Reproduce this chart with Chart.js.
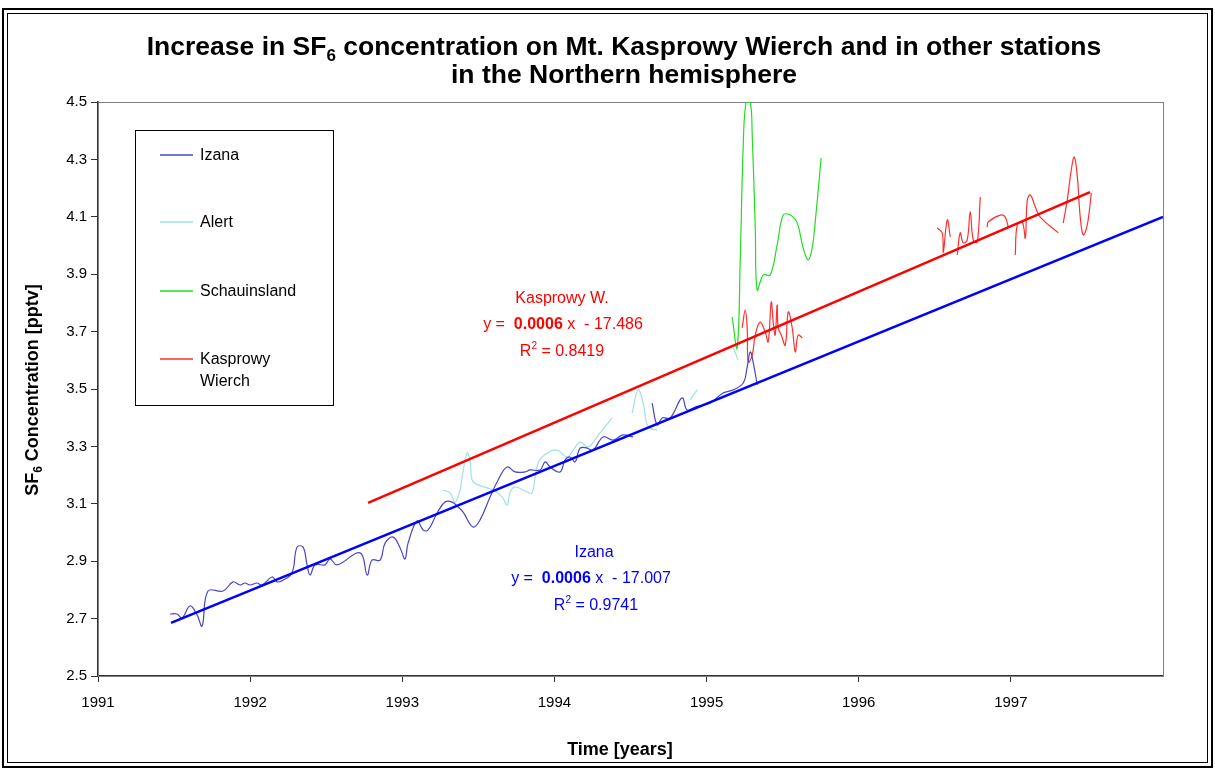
<!DOCTYPE html>
<html>
<head>
<meta charset="utf-8">
<script src="https://cdn.jsdelivr.net/npm/chart.js@4/dist/chart.umd.min.js"></script>
<style>
  body { margin: 0; background: #fff; }
  #wrap { width: 1215px; height: 770px; }
</style>
</head>
<body>
<div id="wrap"><canvas id="sf6Chart" width="1215" height="770"></canvas></div>
<script>
// Izana (null marks a break in the record)
const izanaYears = [1991.473, 1991.519, 1991.552, 1991.605, 1991.651, 1991.684, 1991.723, 1991.822, 1991.888, 1991.934,
  1991.966, 1991.999, 1992.045, 1992.078, 1992.144, 1992.177, 1992.216, 1992.275, 1992.308, 1992.348,
  1992.374, 1992.394, 1992.427, 1992.492, 1992.525, 1992.571, 1992.723, 1992.769, 1992.801, 1992.854,
  1992.887, 1992.94, 1992.986, 1993.018, 1993.038, 1993.097, 1993.137, 1993.17, 1993.229, 1993.281,
  1993.327, 1993.367, 1993.4, 1993.465, 1993.511, 1993.577, 1993.63, 1993.689, 1993.742, 1993.807,
  1993.84, 1993.906, 1993.939, 1993.972, 1994.037, 1994.07, 1994.103, 1994.136, 1994.169, 1994.215,
  1994.254, 1994.32, 1994.386, 1994.452, 1994.517, null, 1994.642, 1994.675, 1994.708, 1994.761,
  1994.839, 1994.872, 1994.925, 1994.978, 1995.024, 1995.109, 1995.175, 1995.241, 1995.267, 1995.287,
  1995.306, 1995.333];
const izanaValues = [2.716, 2.716, 2.702, 2.744, 2.713, 2.674, 2.796, 2.796, 2.828, 2.817,
  2.824, 2.817, 2.824, 2.817, 2.845, 2.828, 2.834, 2.859, 2.949, 2.949,
  2.887, 2.852, 2.887, 2.887, 2.908, 2.887, 2.929, 2.852, 2.904, 2.904,
  2.963, 2.984, 2.946, 2.908, 2.963, 3.04, 3.009, 3.009, 3.068, 3.106,
  3.106, 3.089, 3.071, 3.019, 3.044, 3.124, 3.183, 3.228, 3.211, 3.211,
  3.218, 3.218, 3.246, 3.228, 3.211, 3.253, 3.263, 3.246, 3.294, 3.294,
  3.287, 3.333, 3.322, 3.34, 3.333, null, 3.451, 3.375, 3.399, 3.399,
  3.469, 3.427, 3.437, 3.444, 3.451, 3.486, 3.497, 3.521, 3.577, 3.629,
  3.594, 3.514];

// Alert
const alertYears = [1993.268, 1993.314, 1993.347, 1993.38, 1993.393, 1993.426, 1993.446, 1993.459, 1993.498, 1993.597,
  1993.656, 1993.689, 1993.709, 1993.742, 1993.821, 1993.853, 1993.893, 1993.952, 1994.018, 1994.083,
  1994.123, 1994.169, 1994.222, 1994.30, 1994.379, null, 1994.511, 1994.55, 1994.583, 1994.616,
  1994.675, null, 1994.892, 1994.938, null, 1995.175, 1995.208];
const alertValues = [3.148, 3.138, 3.106, 3.148, 3.193, 3.277, 3.253, 3.183, 3.166, 3.148,
  3.124, 3.096, 3.141, 3.159, 3.141, 3.138, 3.242, 3.277, 3.287, 3.263,
  3.287, 3.315, 3.298, 3.347, 3.399, null, 3.416, 3.497, 3.451, 3.368,
  3.357, null, 3.462, 3.497, null, 3.643, 3.601];

// Schauinsland
const schauYears = [1995.168, 1995.201, 1995.221, 1995.241, 1995.26, 1995.287, 1995.30, 1995.32, 1995.333, 1995.372,
  1995.418, 1995.464, 1995.504, 1995.55, 1995.596, 1995.635, 1995.668, 1995.694, 1995.714, 1995.753];
const schauValues = [3.751, 3.643, 3.943, 4.35, 4.5, 4.5, 4.385, 4.061, 3.845, 3.897,
  3.897, 4.002, 4.106, 4.106, 4.078, 3.991, 3.95, 3.991, 4.082, 4.305];

// Kasprowy Wierch
const kasprowyYears = [1995.234, 1995.254, 1995.267, 1995.274, 1995.30, 1995.32, 1995.352, 1995.385, 1995.405, 1995.425,
  1995.438, 1995.451, 1995.464, 1995.471, 1995.491, 1995.517, 1995.537, 1995.563, 1995.583, 1995.602,
  1995.629, null,
  1996.516, 1996.549, 1996.556, 1996.582, 1996.602, null,
  1996.648, 1996.667, 1996.687, 1996.713, 1996.733, 1996.753, 1996.779, 1996.799, null,
  1996.845, 1996.851, 1996.93, 1996.963, 1996.983, null,
  1997.029, 1997.042, 1997.075, 1997.095, 1997.108, 1997.128, 1997.161, 1997.193, 1997.312, null,
  1997.344, 1997.371, 1997.397, 1997.417, 1997.437, 1997.456, 1997.476, 1997.502, 1997.529];
const kasprowyValues = [3.713, 3.775, 3.713, 3.594, 3.618, 3.688, 3.733, 3.699, 3.664, 3.803,
  3.733, 3.688, 3.793, 3.713, 3.688, 3.653, 3.768, 3.713, 3.629, 3.688,
  3.678, null,
  4.061, 4.044, 3.977, 4.089, 4.03, null,
  3.967, 4.044, 4.009, 4.019, 4.117, 4.019, 4.012, 4.169, null,
  4.064, 4.082, 4.106, 4.099, 4.064, null,
  3.967, 4.071, 4.082, 4.026, 4.159, 4.176, 4.134, 4.099, 4.044, null,
  4.078, 4.159, 4.263, 4.308, 4.239, 4.099, 4.037, 4.071, 4.183];

// linear trend lines (end points)
const izanaTrendYears = [1991.48, 1998];
const izanaTrendValues = [2.685, 4.1];
const kasprowyTrendYears = [1992.775, 1997.52];
const kasprowyTrendValues = [3.103, 4.186];

const xTicks = [1991, 1992, 1993, 1994, 1995, 1996, 1997];
const yTicks = [2.5, 2.7, 2.9, 3.1, 3.3, 3.5, 3.7, 3.9, 4.1, 4.3, 4.5];

const FONT = '"Liberation Sans", Arial, sans-serif';

function toPoints(xs, ys) {
  return xs.map((x, i) => ({ x: x, y: ys[i] }));
}

function lineSet(label, xs, ys, color, width, inLegend) {
  return {
    label: label,
    data: toPoints(xs, ys),
    borderColor: color,
    backgroundColor: color,
    legendColor: color,
    borderWidth: width,
    pointRadius: 0,
    tension: inLegend ? 0.4 : 0,
    spanGaps: false,
    fill: false,
    inLegend: inLegend
  };
}

// draws a run of text pieces: [text, bold, 'sub'|'sup'|undefined]
function richWidth(ctx, parts, size) {
  let w = 0;
  parts.forEach(p => {
    const s = p[2] ? Math.round(size * 0.65) : size;
    ctx.font = (p[1] ? 'bold ' : '') + s + 'px ' + FONT;
    w += ctx.measureText(p[0]).width;
  });
  return w;
}
function drawRich(ctx, parts, cx, y, size, color) {
  let x = cx - richWidth(ctx, parts, size) / 2;
  ctx.fillStyle = color;
  ctx.textAlign = 'left';
  ctx.textBaseline = 'alphabetic';
  parts.forEach(p => {
    const s = p[2] ? Math.round(size * 0.65) : size;
    ctx.font = (p[1] ? 'bold ' : '') + s + 'px ' + FONT;
    let dy = 0;
    if (p[2] === 'sub') dy = size * 0.22;
    if (p[2] === 'sup') dy = -size * 0.42;
    ctx.fillText(p[0], x, y + dy);
    x += ctx.measureText(p[0]).width;
  });
}

const decorPlugin = {
  id: 'decor',
  beforeDatasetsDraw(chart) {
    const ctx = chart.ctx, a = chart.chartArea;
    ctx.save();
    ctx.strokeStyle = '#808080';
    ctx.lineWidth = 1;
    ctx.strokeRect(a.left + 0.5, a.top + 0.5, a.right - a.left, a.bottom - a.top);
    ctx.restore();
  },
  afterDraw(chart) {
    const ctx = chart.ctx;
    ctx.save();
    // outer double frame
    ctx.strokeStyle = '#000';
    ctx.lineWidth = 2;
    ctx.strokeRect(3, 9, 1209, 758);
    ctx.lineWidth = 1;
    ctx.strokeRect(7.5, 13.5, 1200, 749);

    // title
    drawRich(ctx, [['Increase in SF', true], ['6', true, 'sub'], [' concentration on Mt. Kasprowy Wierch and in other stations', true]], 624, 55, 26.5, '#000');
    drawRich(ctx, [['in the Northern hemisphere', true]], 624, 83, 26.5, '#000');

    // axis titles
    drawRich(ctx, [['Time [years]', true]], 620, 755, 18, '#000');
    ctx.save();
    ctx.translate(38, 390);
    ctx.rotate(-Math.PI / 2);
    drawRich(ctx, [['SF', true], ['6', true, 'sub'], [' Concentration [pptv]', true]], 0, 0, 18, '#000');
    ctx.restore();

    // legend box
    ctx.fillStyle = '#fff';
    ctx.fillRect(135, 130, 198, 275);
    ctx.strokeStyle = '#000';
    ctx.lineWidth = 1;
    ctx.strokeRect(135.5, 130.5, 198, 275);
    const rows = [155, 222, 291, 359];
    const shown = chart.data.datasets.filter(d => d.inLegend);
    shown.forEach((d, i) => {
      const y = rows[i];
      ctx.strokeStyle = d.legendColor;
      ctx.lineWidth = 1.5;
      ctx.beginPath();
      ctx.moveTo(160, y);
      ctx.lineTo(193, y);
      ctx.stroke();
      ctx.fillStyle = '#000';
      ctx.font = '16px ' + FONT;
      ctx.textAlign = 'left';
      ctx.textBaseline = 'middle';
      const words = d.label === 'Kasprowy Wierch' ? ['Kasprowy', 'Wierch'] : [d.label];
      words.forEach((w, k) => ctx.fillText(w, 200, y + 1 + k * 22));
    });

    // regression notes
    const red = '#ff0000', blue = '#0000ff';
    drawRich(ctx, [['Kasprowy W.', false]], 562, 303, 16, red);
    drawRich(ctx, [['y =  ', false], ['0.0006', true], [' x  - 17.486', false]], 563, 329, 16, red);
    drawRich(ctx, [['R', false], ['2', false, 'sup'], [' = 0.8419', false]], 562, 356, 16, red);
    drawRich(ctx, [['Izana', false]], 594, 557, 16, blue);
    drawRich(ctx, [['y =  ', false], ['0.0006', true], [' x  - 17.007', false]], 591, 583, 16, blue);
    drawRich(ctx, [['R', false], ['2', false, 'sup'], [' = 0.9741', false]], 596, 610, 16, blue);
    ctx.restore();
  }
};

new Chart(document.getElementById('sf6Chart').getContext('2d'), {
  type: 'line',
  data: {
    datasets: [
      lineSet('Kasprowy trend', kasprowyTrendYears, kasprowyTrendValues, '#ff0000', 2.5, false),
      lineSet('Izana trend', izanaTrendYears, izanaTrendValues, '#0000ff', 2.5, false),
      lineSet('Izana', izanaYears, izanaValues, '#4646c8', 1.2, true),
      lineSet('Alert', alertYears, alertValues, '#9ee2e2', 1.2, true),
      lineSet('Schauinsland', schauYears, schauValues, '#22dd22', 1.2, true),
      lineSet('Kasprowy Wierch', kasprowyYears, kasprowyValues, '#ff3030', 1.2, true)
    ]
  },
  options: {
    responsive: false,
    animation: false,
    layout: { padding: { left: 0, top: 102, right: 52, bottom: 0 } },
    plugins: {
      legend: { display: false },
      title: { display: false },
      tooltip: { enabled: false }
    },
    scales: {
      x: {
        type: 'linear',
        min: 1991,
        max: 1998,
        afterBuildTicks: axis => { axis.ticks = xTicks.map(v => ({ value: v })); },
        afterFit: axis => { axis.height = 94; },
        grid: { display: true, drawOnChartArea: false, drawTicks: true, tickLength: 6, color: '#333' },
        border: { display: true, color: '#333', width: 1.5 },
        ticks: { color: '#000', padding: 12, font: { family: FONT, size: 15 }, maxRotation: 0, autoSkip: false,
          callback: v => String(v) }
      },
      y: {
        min: 2.5,
        max: 4.5,
        afterBuildTicks: axis => { axis.ticks = yTicks.map(v => ({ value: v })); },
        afterFit: axis => { axis.width = 98; },
        grid: { display: true, drawOnChartArea: false, drawTicks: true, tickLength: 7, color: '#333' },
        border: { display: true, color: '#333', width: 1.5 },
        ticks: { color: '#000', padding: 4, font: { family: FONT, size: 15 }, callback: v => v.toFixed(1) }
      }
    }
  },
  plugins: [decorPlugin]
});
</script>
</body>
</html>
